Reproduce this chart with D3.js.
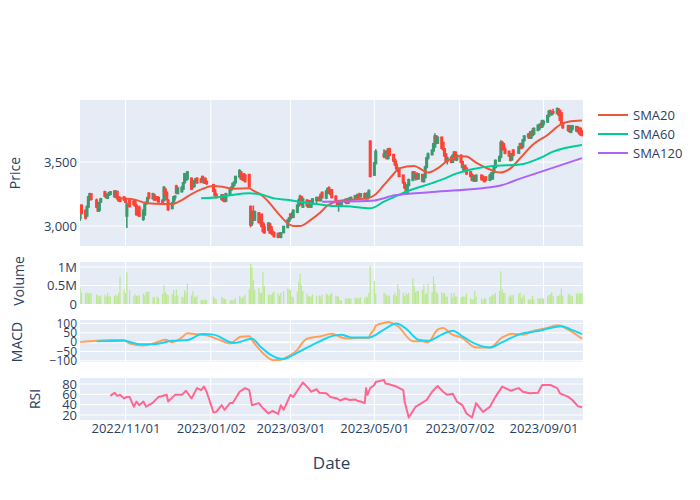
<!DOCTYPE html>
<html><head><meta charset="utf-8">
<script src="https://cdn.jsdelivr.net/npm/d3@7"></script>
<style>
body{margin:0;background:#fff}
text{font-family:"Open Sans",verdana,arial,sans-serif;fill:#2a3f5f}
</style>
</head><body>
<svg id="chart" width="700" height="500"></svg>
<script>
// ---------- DATA ----------
const tradeMonths = ["2022-09","2022-10","2022-11","2022-12","2023-01","2023-02","2023-03","2023-04","2023-05","2023-06","2023-07","2023-08","2023-09"];
const tradeDays = [
 [29,30],
 [3,4,5,6,7,11,12,13,14,17,18,19,20,21,24,25,26,27,28,31],
 [1,2,4,7,8,9,10,11,14,15,16,17,18,21,22,24,25,28,29,30],
 [1,2,5,6,7,8,9,12,13,14,15,16,19,20,21,22,23,26,27,28,29,30],
 [4,5,6,10,11,12,13,16,17,18,19,20,23,24,25,26,27,30,31],
 [1,2,3,6,7,8,9,10,13,14,15,16,17,20,21,22,24,27,28],
 [1,2,3,6,7,8,9,10,13,14,15,16,17,20,22,23,24,27,28,29,30,31],
 [3,4,5,6,7,10,11,12,13,14,17,18,19,20,21,24,25,26,27,28],
 [1,2,8,9,10,11,12,15,16,17,18,19,22,23,24,25,26,29,30,31],
 [1,2,5,6,7,8,9,12,13,14,15,16,19,20,21,22,23,26,27,28,29,30],
 [3,4,5,6,7,10,11,12,13,14,18,19,20,21,24,25,26,27,28,31],
 [1,2,3,4,7,8,9,10,14,15,16,17,18,21,22,23,24,25,28,29,30,31],
 [1,4,5,6,7,8,11,12,13,14,15,19,20,21,22,25,26,27,28,29]
];
const openPx = [
 [3060,3160],
 [3120,3080,3150,3220,3250,3200,3160,3125,3190,3265,3240,3220,3245,3250,3270,3230,3268,3225,3215,3225],
 [3210,3080,3200,3190,3200,3160,3120,3145,3055,3090,3175,3190,3255,3215,3240,3225,3220,3200,3200,3285],
 [3260,3200,3140,3180,3225,3310,3255,3270,3290,3340,3360,3370,3370,3340,3310,3355,3370,3365,3385,3340,3370,3345],
 [3320,3280,3245,3210,3240,3205,3195,3250,3285,3300,3320,3340,3385,3420,3370,3405,3395,3400,3150],
 [3020,3110,3050,3100,3040,3090,3020,2990,2970,3015,2990,2950,2945,2915,2940,2915,2950,2990,3040],
 [3060,3090,3070,3110,3160,3190,3225,3150,3200,3150,3195,3150,3175,3200,3220,3200,3260,3220,3270,3295,3250,3280],
 [3230,3190,3160,3195,3160,3190,3205,3180,3210,3215,3220,3235,3220,3245,3230,3250,3220,3215,3230,3660],
 [3400,3490,3560,3545,3580,3530,3600,3555,3515,3480,3450,3440,3395,3335,3310,3265,3320,3360,3420,3380],
 [3400,3370,3400,3350,3380,3460,3530,3560,3590,3620,3700,3650,3690,3650,3600,3560,3510,3535,3500,3550,3575,3520],
 [3550,3500,3430,3470,3450,3420,3400,3360,3390,3355,3395,3385,3370,3380,3360,3370,3370,3420,3460,3510],
 [3540,3650,3640,3600,3580,3560,3520,3590,3570,3610,3640,3620,3670,3700,3720,3690,3740,3720,3750,3760,3790,3775],
 [3800,3815,3860,3895,3875,3890,3880,3910,3900,3880,3800,3750,3780,3735,3760,3745,3770,3750,3760,3740]
];
const highPx = [
 [3160,3170],
 [3130,3160,3235,3260,3258,3215,3170,3190,3220,3275,3255,3250,3265,3270,3280,3275,3272,3235,3230,3230],
 [3220,3190,3210,3205,3210,3170,3130,3160,3130,3175,3190,3225,3262,3260,3250,3235,3230,3205,3312,3295],
 [3270,3210,3185,3235,3240,3322,3300,3310,3340,3415,3412,3430,3380,3350,3360,3375,3380,3375,3392,3375,3380,3355],
 [3330,3290,3260,3250,3248,3215,3260,3290,3310,3335,3345,3390,3445,3430,3400,3412,3405,3405,3160],
 [3120,3160,3120,3110,3090,3095,3030,3020,3030,3025,3000,2975,2960,2945,2950,2950,3000,3050,3070],
 [3100,3110,3130,3170,3215,3245,3235,3220,3210,3200,3205,3185,3215,3230,3235,3250,3270,3280,3300,3310,3285,3290],
 [3240,3200,3200,3205,3200,3215,3215,3220,3225,3230,3240,3245,3250,3260,3255,3262,3240,3260,3285,3670],
 [3500,3600,3600,3590,3590,3610,3612,3565,3530,3510,3460,3445,3400,3345,3320,3330,3370,3430,3425,3410],
 [3420,3410,3405,3390,3470,3540,3575,3600,3650,3724,3710,3700,3700,3660,3610,3570,3540,3545,3560,3585,3580,3560],
 [3560,3510,3480,3475,3455,3430,3410,3400,3395,3400,3400,3395,3380,3390,3400,3420,3425,3470,3520,3550],
 [3670,3665,3650,3615,3590,3570,3570,3600,3625,3650,3650,3680,3710,3725,3740,3740,3765,3770,3790,3800,3810,3830],
 [3830,3870,3905,3910,3900,3915,3925,3920,3905,3890,3810,3790,3790,3780,3790,3780,3780,3770,3770,3750]
];
const lowPx = [
 [3040,3090],
 [3050,3075,3145,3200,3200,3140,3110,3110,3180,3225,3215,3210,3235,3240,3220,3225,3210,3195,3185,3195],
 [3180,2985,3145,3160,3150,3085,3080,3070,3040,3080,3165,3180,3210,3210,3200,3200,3185,3165,3195,3235],
 [3200,3120,3130,3175,3200,3250,3250,3262,3285,3335,3355,3360,3280,3295,3305,3340,3330,3340,3360,3330,3330,3320],
 [3265,3235,3215,3200,3195,3185,3190,3245,3275,3295,3310,3335,3380,3360,3350,3355,3340,3300,2990],
 [3000,3040,3040,3020,3010,2990,2950,2940,2960,2940,2935,2930,2910,2905,2910,2905,2945,2985,3030],
 [3050,3060,3065,3100,3150,3180,3160,3140,3150,3140,3150,3140,3170,3180,3195,3195,3215,3210,3250,3250,3240,3215],
 [3180,3150,3112,3150,3155,3175,3170,3175,3195,3200,3210,3215,3215,3225,3225,3215,3205,3210,3225,3380],
 [3390,3480,3530,3535,3520,3520,3545,3500,3470,3440,3420,3380,3330,3290,3260,3245,3310,3350,3370,3355],
 [3360,3365,3345,3340,3375,3450,3520,3550,3580,3610,3640,3640,3600,3590,3540,3500,3480,3490,3495,3540,3510,3505],
 [3490,3450,3420,3420,3400,3380,3350,3345,3345,3345,3360,3355,3340,3355,3350,3360,3365,3410,3450,3500],
 [3530,3590,3590,3560,3540,3505,3510,3545,3565,3600,3600,3610,3660,3680,3680,3680,3700,3710,3740,3750,3770,3765],
 [3780,3805,3850,3870,3860,3870,3875,3860,3820,3790,3760,3735,3730,3725,3745,3735,3730,3715,3705,3700]
];
const closePx = [
 [3150,3100],
 [3065,3150,3225,3250,3210,3150,3120,3180,3210,3235,3225,3245,3258,3265,3232,3270,3215,3200,3195,3205],
 [3190,3170,3155,3170,3160,3090,3090,3080,3120,3170,3185,3220,3220,3250,3205,3205,3190,3175,3300,3245],
 [3210,3130,3180,3225,3230,3260,3295,3300,3335,3405,3400,3420,3290,3305,3350,3365,3340,3345,3365,3368,3340,3335],
 [3275,3240,3225,3240,3200,3195,3250,3285,3300,3330,3340,3385,3430,3370,3395,3360,3350,3310,3010],
 [3100,3050,3110,3030,3080,3000,2960,2950,3020,2950,2945,2935,2920,2940,2915,2945,2995,3045,3060],
 [3090,3070,3120,3160,3200,3230,3170,3210,3160,3190,3160,3180,3210,3220,3200,3245,3225,3270,3290,3260,3275,3225],
 [3190,3160,3195,3160,3190,3205,3180,3210,3215,3220,3235,3220,3245,3230,3250,3220,3235,3255,3275,3390],
 [3490,3580,3545,3580,3530,3600,3555,3510,3480,3450,3430,3390,3340,3300,3270,3320,3360,3420,3380,3400],
 [3370,3405,3350,3380,3460,3530,3560,3590,3640,3700,3650,3690,3610,3600,3550,3510,3530,3500,3550,3575,3520,3550],
 [3500,3460,3470,3430,3410,3390,3360,3390,3355,3395,3365,3360,3350,3360,3395,3410,3415,3460,3510,3540],
 [3650,3600,3600,3570,3550,3515,3560,3555,3615,3640,3610,3670,3700,3715,3690,3735,3710,3760,3785,3790,3775,3820],
 [3815,3860,3895,3880,3890,3885,3915,3870,3830,3800,3770,3780,3740,3770,3780,3775,3740,3725,3715,3710]
];
// volume in thousands of shares
const volumeK = [
 [430,300],
 [290,310,280,300,290,250,230,200,230,250,200,300,210,200,220,250,200,300,730,380],
 [300,860,370,200,260,220,230,240,280,240,330,320,330,180,190,200,160,270,510,320],
 [270,240,270,380,200,400,230,200,180,370,300,560,230,350,200,180,230,110,100,110,120,100],
 [200,150,130,190,160,140,120,100,110,100,120,150,220,180,160,200,250,400,1080],
 [990,640,380,430,300,300,860,490,250,250,250,300,330,280,220,300,350,420,400],
 [380,200,180,330,600,820,500,350,280,200,220,200,250,220,230,200,250,280,250,220,260,300],
 [220,220,200,100,100,150,150,150,160,150,180,150,170,150,180,160,200,180,300,1020],
 [620,280,300,280,220,250,200,250,300,220,530,400,300,220,300,250,300,690,480,320],
 [350,350,380,520,280,280,550,320,740,540,320,280,320,280,300,200,200,300,170,300,200,200],
 [180,200,200,200,280,150,130,130,350,200,150,100,150,150,200,200,250,250,300,350],
 [880,390,300,300,200,250,200,250,280,300,150,200,250,120,120,120,220,120,150,150,150,150],
 [150,200,250,250,320,220,220,220,250,420,220,250,280,200,220,280,300,280,300,280]
];
const sma20 = [["2022-10-27",3216],["2022-11-07",3208],["2022-11-17",3177],["2022-11-28",3172],["2022-12-05",3172],["2022-12-12",3203],["2022-12-19",3250],["2022-12-27",3290],["2023-01-04",3312],["2023-01-11",3305],["2023-01-18",3292],["2023-01-30",3294],["2023-02-02",3276],["2023-02-08",3242],["2023-02-14",3177],["2023-02-20",3099],["2023-02-27",3021],["2023-03-03",3000],["2023-03-08",3000],["2023-03-15",3042],["2023-03-22",3099],["2023-03-28",3160],["2023-04-05",3195],["2023-04-17",3208],["2023-04-26",3216],["2023-05-01",3240],["2023-05-08",3320],["2023-05-15",3406],["2023-05-19",3450],["2023-05-30",3469],["2023-06-05",3437],["2023-06-09",3417],["2023-06-16",3450],["2023-06-23",3508],["2023-07-03",3545],["2023-07-07",3542],["2023-07-14",3495],["2023-07-25",3437],["2023-07-31",3417],["2023-08-08",3450],["2023-08-15",3529],["2023-08-24",3633],["2023-09-04",3711],["2023-09-13",3789],["2023-09-19",3815],["2023-09-29",3823]];
const sma60 = [["2022-12-26",3216],["2023-01-10",3229],["2023-01-20",3247],["2023-01-30",3255],["2023-02-09",3242],["2023-02-17",3216],["2023-02-28",3203],["2023-03-10",3185],["2023-03-20",3172],["2023-03-31",3157],["2023-04-11",3155],["2023-04-28",3138],["2023-05-08",3190],["2023-05-16",3229],["2023-05-26",3275],["2023-06-12",3335],["2023-06-19",3362],["2023-06-30",3411],["2023-07-11",3443],["2023-07-26",3469],["2023-08-15",3480],["2023-08-29",3529],["2023-09-08",3581],["2023-09-29",3633]];
const sma120 = [["2023-03-24",3190],["2023-04-26",3196],["2023-05-01",3200],["2023-05-16",3240],["2023-06-12",3265],["2023-07-31",3315],["2023-08-15",3370],["2023-09-29",3530]];
const macd = [["2022-09-29",0],["2022-10-11",7],["2022-10-21",11],["2022-10-31",11],["2022-11-04",-7],["2022-11-14",-18],["2022-11-24",0],["2022-11-30",13],["2022-12-05",0],["2022-12-12",25],["2022-12-16",47],["2022-12-23",42],["2022-12-30",36],["2023-01-10",7],["2023-01-16",-7],["2023-01-24",29],["2023-01-30",31],["2023-02-02",0],["2023-02-09",-59],["2023-02-16",-95],["2023-02-21",-95],["2023-02-27",-77],["2023-03-06",-41],["2023-03-10",0],["2023-03-13",18],["2023-03-23",31],["2023-03-31",45],["2023-04-07",25],["2023-04-12",20],["2023-04-18",22],["2023-04-27",22],["2023-04-28",40],["2023-05-01",70],["2023-05-02",88],["2023-05-08",102],["2023-05-11",108],["2023-05-18",85],["2023-05-29",5],["2023-06-05",4],["2023-06-09",0],["2023-06-16",67],["2023-06-20",76],["2023-06-26",43],["2023-07-04",22],["2023-07-14",-29],["2023-07-24",-29],["2023-08-02",25],["2023-08-09",45],["2023-08-17",40],["2023-08-24",58],["2023-09-04",76],["2023-09-11",90],["2023-09-19",67],["2023-09-29",18]];
const signal = [["2022-10-11",4],["2022-10-31",7],["2022-11-11",-11],["2022-11-21",-11],["2022-12-05",7],["2022-12-16",11],["2022-12-27",43],["2023-01-04",40],["2023-01-19",-5],["2023-02-01",18],["2023-02-07",-23],["2023-02-14",-65],["2023-02-24",-90],["2023-03-03",-68],["2023-03-13",-29],["2023-03-23",7],["2023-03-31",32],["2023-04-07",40],["2023-04-14",25],["2023-04-27",25],["2023-05-08",67],["2023-05-17",99],["2023-05-24",72],["2023-06-02",13],["2023-06-09",7],["2023-06-19",40],["2023-06-27",61],["2023-07-04",31],["2023-07-14",-11],["2023-07-24",-29],["2023-08-02",0],["2023-08-14",40],["2023-08-29",61],["2023-09-14",85],["2023-09-21",67],["2023-09-29",43]];
const rsi = [["2022-10-21",57],["2022-10-24",63],["2022-10-26",57],["2022-10-28",59],["2022-10-31",52],["2022-11-02",55],["2022-11-04",55],["2022-11-07",36],["2022-11-09",46],["2022-11-11",39],["2022-11-14",46],["2022-11-16",36],["2022-11-21",44],["2022-11-25",55],["2022-12-01",59],["2022-12-02",46],["2022-12-07",59],["2022-12-12",59],["2022-12-15",67],["2022-12-19",52],["2022-12-23",72],["2022-12-26",68],["2022-12-28",75],["2022-12-30",65],["2023-01-04",25],["2023-01-06",26],["2023-01-10",39],["2023-01-12",30],["2023-01-16",43],["2023-01-18",43],["2023-01-23",65],["2023-01-27",72],["2023-01-30",68],["2023-02-01",39],["2023-02-06",43],["2023-02-09",33],["2023-02-13",23],["2023-02-16",28],["2023-02-20",22],["2023-02-22",39],["2023-02-24",30],["2023-03-01",59],["2023-03-03",55],["2023-03-10",83],["2023-03-14",72],["2023-03-16",65],["2023-03-20",70],["2023-03-22",63],["2023-03-27",62],["2023-03-30",55],["2023-04-04",52],["2023-04-06",48],["2023-04-10",52],["2023-04-13",49],["2023-04-17",50],["2023-04-19",47],["2023-04-21",46],["2023-04-24",43],["2023-04-25",72],["2023-04-26",59],["2023-04-28",72],["2023-05-01",78],["2023-05-02",84],["2023-05-08",88],["2023-05-09",81],["2023-05-11",80],["2023-05-17",75],["2023-05-22",68],["2023-05-23",46],["2023-05-26",15],["2023-05-31",36],["2023-06-02",39],["2023-06-08",49],["2023-06-12",65],["2023-06-16",76],["2023-06-20",65],["2023-06-23",59],["2023-06-27",61],["2023-06-30",46],["2023-07-04",39],["2023-07-07",23],["2023-07-11",15],["2023-07-14",43],["2023-07-19",26],["2023-07-24",36],["2023-07-28",55],["2023-08-02",75],["2023-08-08",67],["2023-08-14",72],["2023-08-17",65],["2023-08-22",62],["2023-08-28",63],["2023-08-31",78],["2023-09-06",78],["2023-09-11",72],["2023-09-13",62],["2023-09-19",55],["2023-09-22",49],["2023-09-26",37],["2023-09-29",35]];
const xTickLabels = ["2022/11/01","2023/01/02","2023/03/01","2023/05/01","2023/07/02","2023/09/01"];
const priceTicks = [3000,3500];
const volumeTicksK = [0,500,1000];
const macdTicks = [-100,-50,0,50,100];
const rsiTicks = [20,40,60,80];
const legendNames = ["SMA20","SMA60","SMA120"];

// ---------- BUILD ----------
const parse = d3.timeParse("%Y-%m-%d");
const parseTick = d3.timeParse("%Y/%m/%d");
const dates = tradeMonths.flatMap((m,i)=>tradeDays[i].map(d=>parse(m+"-"+String(d).padStart(2,"0"))));
const O = openPx.flat(), H = highPx.flat(), Lw = lowPx.flat(), C = closePx.flat(), V = volumeK.flat();
const candles = dates.map((d,i)=>({d, o:O[i], h:H[i], l:Lw[i], c:C[i], v:V[i]}));

const COLORS = {inc:"#3D9970", dec:"#FF4136", sma20:"#EF553B", sma60:"#00CC96", sma120:"#AB63FA",
  vol:"#B6E880", macd:"#FFA15A", signal:"#19D3F3", rsi:"#FF6692", bg:"#E5ECF6", grid:"#ffffff", text:"#2a3f5f"};
const FONT = '"Open Sans",verdana,arial,sans-serif';

const svg = d3.select("#chart");
const L = 80, R = 583;
const P = {price:[100,246], vol:[262,304], macd:[320,362], rsi:[378,420]};

const x = d3.scaleTime().domain([new Date(2022,8,28,22,0), new Date(2023,8,29,17,30)]).range([L,R]);
const yP = d3.scaleLinear().domain([2844,3984]).range([P.price[1],P.price[0]]);
const yV = d3.scaleLinear().domain([0,1134]).range([P.vol[1],P.vol[0]]);
const yM = d3.scaleLinear().domain([-106,118]).range([P.macd[1],P.macd[0]]);
const yR = d3.scaleLinear().domain([10.3,91.6]).range([P.rsi[1],P.rsi[0]]);

const defs = svg.append("defs");
Object.entries(P).forEach(([k,[t,b]])=>{
  defs.append("clipPath").attr("id","clip-"+k).append("rect").attr("x",L).attr("y",t).attr("width",R-L).attr("height",b-t);
  svg.append("rect").attr("x",L).attr("y",t).attr("width",R-L).attr("height",b-t).attr("fill",COLORS.bg);
});

const tickDates = xTickLabels.map(parseTick);
function grids(key, yScale, ticks, zero){
  const [t,b] = P[key];
  const g = svg.append("g");
  g.selectAll("line.vx").data(tickDates).join("line")
    .attr("x1",d=>x(d)).attr("x2",d=>x(d)).attr("y1",t).attr("y2",b)
    .attr("stroke",COLORS.grid).attr("stroke-width",1);
  g.selectAll("line.hy").data(ticks).join("line")
    .attr("x1",L).attr("x2",R).attr("y1",d=>yScale(d)).attr("y2",d=>yScale(d))
    .attr("stroke",COLORS.grid).attr("stroke-width",d=>(zero && d===0)?2:1);
}
grids("price", yP, priceTicks, false);
grids("vol", yV, volumeTicksK.filter(v=>v>0), false);
grids("macd", yM, macdTicks, true);
grids("rsi", yR, rsiTicks, false);

// y axes (labels only)
function yAxis(scale, ticks, fmt, fs){
  const g = svg.append("g").attr("transform",`translate(${L},0)`)
    .call(d3.axisLeft(scale).tickValues(ticks).tickFormat(fmt).tickSize(0).tickPadding(3));
  g.select(".domain").remove();
  g.selectAll("text").attr("fill",COLORS.text).style("font-size",fs+"px").style("font-family",FONT);
}
yAxis(yP, priceTicks, d3.format(","), 13);
yAxis(yV, volumeTicksK, v=> v===0 ? "0" : (v/1000)+"M", 13);
yAxis(yM, macdTicks, d3.format("d"), 12);
yAxis(yR, rsiTicks, d3.format("d"), 13);

// x axis labels under RSI panel
const gx = svg.append("g").attr("transform",`translate(0,${P.rsi[1]})`)
  .call(d3.axisBottom(x).tickValues(tickDates).tickFormat(d3.timeFormat("%Y/%m/%d")).tickSize(0).tickPadding(4));
gx.select(".domain").remove();
gx.selectAll("text").attr("fill",COLORS.text).style("font-size","13px").style("font-family",FONT);

// ---------- candles ----------
const gc = svg.append("g").attr("clip-path","url(#clip-price)");
const col = d=> d.c>=d.o ? COLORS.inc : COLORS.dec;
gc.selectAll("line.wick").data(candles).join("line")
  .attr("x1",d=>x(d.d)).attr("x2",d=>x(d.d))
  .attr("y1",d=>yP(d.h)).attr("y2",d=>yP(d.l))
  .attr("stroke",col).attr("stroke-width",1.6);
gc.selectAll("rect.body").data(candles).join("rect")
  .attr("x",d=>x(d.d)-0.55).attr("width",1.1)
  .attr("y",d=>yP(Math.max(d.o,d.c))).attr("height",d=>Math.abs(yP(d.o)-yP(d.c)))
  .attr("fill",col).attr("stroke",col).attr("stroke-width",2);

// SMA lines
const lineP = d3.line().x(d=>x(parse(d[0]))).y(d=>yP(d[1])).curve(d3.curveMonotoneX);
[[sma20,COLORS.sma20],[sma60,COLORS.sma60],[sma120,COLORS.sma120]].forEach(([s,c])=>{
  gc.append("path").datum(s).attr("d",lineP).attr("fill","none").attr("stroke",c).attr("stroke-width",2);
});

// ---------- volume ----------
const bw = (x(new Date(2023,0,11)) - x(new Date(2023,0,10)))*0.85;
svg.append("g").attr("clip-path","url(#clip-vol)")
  .selectAll("rect").data(candles).join("rect")
  .attr("x",d=>x(d.d)-bw/2).attr("width",bw)
  .attr("y",d=>yV(d.v)).attr("height",d=>yV(0)-yV(d.v))
  .attr("fill",COLORS.vol).attr("opacity",0.9);

// ---------- MACD ----------
const gm = svg.append("g").attr("clip-path","url(#clip-macd)");
gm.append("path").datum(macd).attr("d",d3.line().x(d=>x(parse(d[0]))).y(d=>yM(d[1])).curve(d3.curveMonotoneX))
  .attr("fill","none").attr("stroke",COLORS.macd).attr("stroke-width",2);
gm.append("path").datum(signal).attr("d",d3.line().x(d=>x(parse(d[0]))).y(d=>yM(d[1])).curve(d3.curveMonotoneX))
  .attr("fill","none").attr("stroke",COLORS.signal).attr("stroke-width",2);

// ---------- RSI ----------
svg.append("g").attr("clip-path","url(#clip-rsi)")
  .append("path").datum(rsi).attr("d",d3.line().x(d=>x(parse(d[0]))).y(d=>yR(d[1])))
  .attr("fill","none").attr("stroke",COLORS.rsi).attr("stroke-width",2).attr("stroke-linejoin","round");

// ---------- titles ----------
function yTitle(txt, cx, cy){
  svg.append("text").attr("transform",`translate(${cx},${cy}) rotate(-90)`)
    .attr("text-anchor","middle").attr("dominant-baseline","central")
    .style("font-size","14px").text(txt);
}
yTitle("Price", 14, 173);
yTitle("Volume", 18.5, 281);
yTitle("MACD", 16, 342);
yTitle("RSI", 34, 399);
svg.append("text").attr("x",(L+R)/2).attr("y",462).attr("text-anchor","middle")
  .attr("dominant-baseline","central").style("font-size","17px").text("Date");

// ---------- legend ----------
const lg = svg.append("g");
[COLORS.sma20,COLORS.sma60,COLORS.sma120].forEach((c,i)=>{
  const yy = 115 + i*19;
  lg.append("line").attr("x1",598).attr("x2",628).attr("y1",yy).attr("y2",yy).attr("stroke",c).attr("stroke-width",2);
  lg.append("text").attr("x",633).attr("y",yy).attr("dominant-baseline","central").style("font-size","13px").text(legendNames[i]);
});
</script>
</body></html>
